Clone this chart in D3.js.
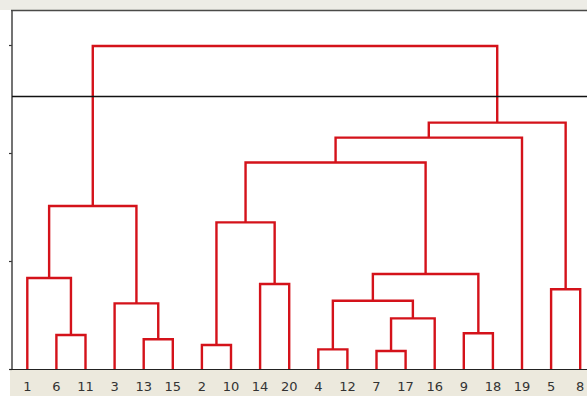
<!DOCTYPE html>
<html>
<head>
<meta charset="utf-8">
<script src="https://cdn.jsdelivr.net/npm/d3@7"></script>
<style>
html,body{margin:0;padding:0;background:#fff;}
svg{display:block;}
</style>
</head>
<body>
<svg id="chart" width="587" height="396"></svg>
<script>
// Leaf order along the x axis
const leafLabels = ["1","6","11","3","13","15","2","10","14","20","4","12","7","17","16","9","18","19","5","8"];
// Merges: each joins two members (leaf labels or earlier merge ids) at a height
const mergeIds    = ["m0","m1","m2","m3","m4","m5","m6","m7","m8","m9","m10","m11","m12","m13","m14","m15","m16","m17","m18"];
const mergeLeft   = ["6","1","13","3","m1","2","14","m5","4","7","m9","m8","9","m11","m7","m14","5","m15","m4"];
const mergeRight  = ["11","m0","15","m2","m3","10","20","m6","12","17","16","m10","18","m12","m13","19","8","m16","m17"];
const mergeHeight = [0.315,0.843,0.275,0.608,1.509,0.222,0.787,1.358,0.182,0.167,0.469,0.632,0.331,0.880,1.912,2.142,0.738,2.281,2.991];
// Cut level (horizontal line) and y tick values
const cutHeight = 2.523;
const yTicks = [0,1,2,3];

const W = 587, H = 396;
const svg = d3.select("#chart");

const plotLeft = 12, plotTop = 10, baseY = 369;

// build tree
const nodes = {};
leafLabels.forEach(l => nodes[l] = {name:l, height:0});
mergeIds.forEach((id,i) => {
  nodes[id] = {name:id, height:mergeHeight[i], children:[nodes[mergeLeft[i]], nodes[mergeRight[i]]]};
});
const root = d3.hierarchy(nodes[mergeIds[mergeIds.length-1]]);

const step = 29.1;
const xOff = 12.75;
d3.cluster().size([step * leafLabels.length, 1]).separation(() => 1)(root);

const y = d3.scaleLinear().domain([0, 1]).range([baseY, baseY - 108]);

// backgrounds
svg.append("rect").attr("x",0).attr("y",0).attr("width",W).attr("height",plotTop).attr("fill","#edece6");
svg.append("rect").attr("x",plotLeft-2).attr("y",baseY).attr("width",W).attr("height",H-baseY).attr("fill","#ece9dd");

// top border
svg.append("line").attr("x1",plotLeft-1).attr("x2",W).attr("y1",plotTop+0.5).attr("y2",plotTop+0.5)
  .attr("stroke","#4a4a48").attr("stroke-width",1.5);

// y axis (no labels)
const yAxis = d3.axisLeft(y).tickValues(yTicks).tickSize(3).tickFormat("");
const gy = svg.append("g").attr("transform",`translate(${plotLeft},0)`).call(yAxis);
gy.select(".domain").remove();
gy.selectAll(".tick line").attr("stroke","#333").attr("stroke-width",1.2);
svg.append("line").attr("x1",plotLeft).attr("x2",plotLeft).attr("y1",plotTop).attr("y2",baseY)
  .attr("stroke","#444").attr("stroke-width",1.5);

// dendrogram links
const xp = d => xOff + d.x;
const g = svg.append("g");
const paths = [];
root.descendants().forEach(n => {
  if (n.children) {
    const [a,b] = n.children;
    const hy = y(n.data.height);
    paths.push(`M${xp(a)},${y(a.data.height)}V${hy}H${xp(b)}V${y(b.data.height)}`);
  }
});
g.selectAll("path").data(paths).join("path")
  .attr("d", d => d).attr("fill","none")
  .attr("stroke","#d4121a").attr("stroke-width",2.4).attr("stroke-linejoin","miter");

// cut line
svg.append("line").attr("x1",plotLeft).attr("x2",W).attr("y1",y(cutHeight)).attr("y2",y(cutHeight))
  .attr("stroke","#111").attr("stroke-width",1.5);

// baseline
svg.append("line").attr("x1",plotLeft-2).attr("x2",W).attr("y1",baseY+0.5).attr("y2",baseY+0.5)
  .attr("stroke","#222").attr("stroke-width",1.2);

// leaf labels
svg.append("g").selectAll("text").data(root.leaves()).join("text")
  .attr("x", d => xp(d)).attr("y", 391)
  .attr("text-anchor","middle")
  .attr("font-family","DejaVu Sans, Verdana, sans-serif").attr("font-size",13)
  .attr("fill","#333")
  .text(d => d.data.name);
</script>
</body>
</html>
